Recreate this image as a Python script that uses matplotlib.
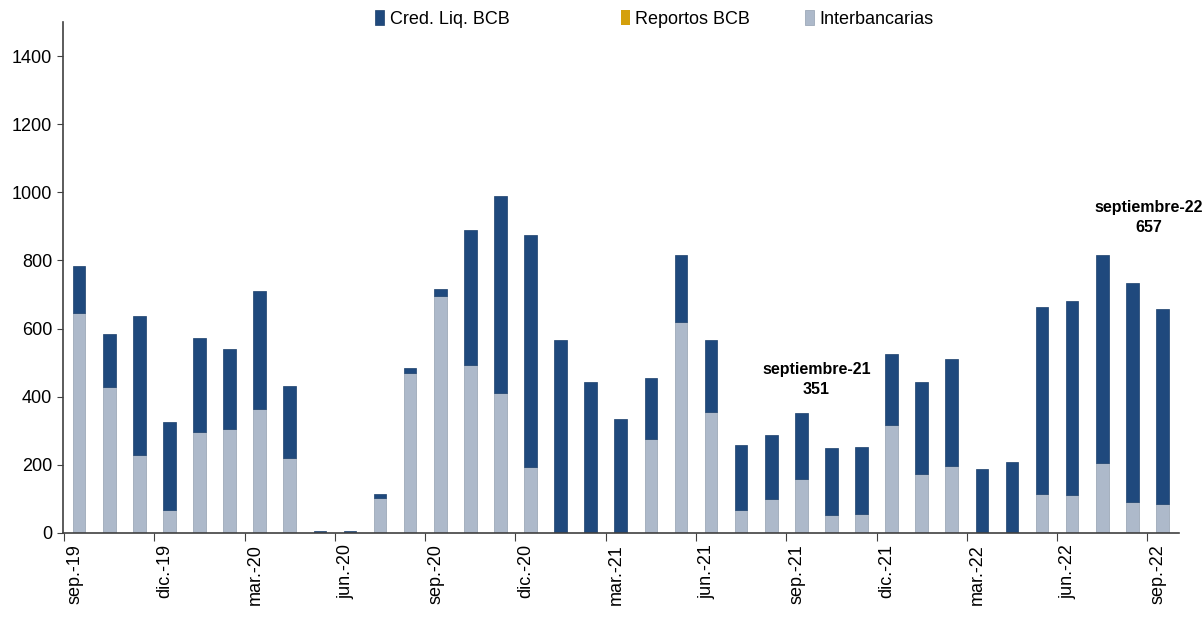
import matplotlib
matplotlib.use("Agg")
import matplotlib.pyplot as plt
import numpy as np
from matplotlib import font_manager

# pick a narrow font if there is one
names = set(f.name for f in font_manager.fontManager.ttflist)
fam = [n for n in ["Liberation Sans Narrow", "Liberation Sans", "DejaVu Sans"] if n in names]
plt.rcParams['font.family'] = fam

months = ["sep.-19", "oct.-19", "nov.-19", "dic.-19", "ene.-20", "feb.-20", "mar.-20",
          "abr.-20", "may.-20", "jun.-20", "jul.-20", "ago.-20", "sep.-20", "oct.-20",
          "nov.-20", "dic.-20", "ene.-21", "feb.-21", "mar.-21", "abr.-21", "may.-21",
          "jun.-21", "jul.-21", "ago.-21", "sep.-21", "oct.-21", "nov.-21", "dic.-21",
          "ene.-22", "feb.-22", "mar.-22", "abr.-22", "may.-22", "jun.-22", "jul.-22",
          "ago.-22", "sep.-22"]

interbancarias = [647, 429, 228, 68, 296, 305, 365, 219, 0, 0, 101, 469, 697, 494, 412, 193,
                  0, 0, 0, 275, 618, 356, 68, 98, 158, 51, 56, 317, 172, 197, 0, 0,
                  115, 110, 206, 90, 84]
reportos = [0] * 37
cred_liq = [136, 154, 410, 258, 275, 236, 346, 213, 5, 5, 14, 15, 19, 395, 576, 683,
            567, 442, 335, 180, 197, 211, 189, 189, 193, 197, 197, 207, 270, 314, 187, 209,
            549, 572, 609, 643, 573]

note_text = ["septiembre-21\n351", "septiembre-22\n657"]
note_idx = [24, 36]
# where the labels sit (x shift in bars, y lift in units)
note_dx = [0.5, -0.45]
note_dy = [48, 218]

c_cred = "#1f497d"
c_rep = "#d4a00c"
c_inter = "#adb9ca"

fig = plt.figure(figsize=(12.03, 6.18), dpi=100)
ax = fig.add_axes([0.052, 0.138, 0.928, 0.826])

x = np.arange(len(months))
w = 0.42
b1 = np.array(interbancarias)
b2 = b1 + np.array(reportos)
hi = ax.bar(x, interbancarias, w, color=c_inter, edgecolor="#9ea9b8", linewidth=0.6)
hr = ax.bar(x, reportos, w, bottom=b1, color=c_rep)
hc = ax.bar(x, cred_liq, w, bottom=b2, color=c_cred, edgecolor="#1a3f6c", linewidth=0.5)

ax.set_xlim(-0.55, len(months) - 0.45)
ax.set_ylim(0, 1500)
ax.set_yticks(range(0, 1401, 200))
ax.tick_params(axis="y", labelsize=13, length=4, color="#404040")

# ticks at category boundaries every 3 months, labels near them
ax.set_xticks(np.arange(0, len(months), 3) - 0.5)
ax.set_xticklabels([])
ax.tick_params(axis="x", which="major", length=6, color="#404040")
ax.set_xticks(np.arange(0, len(months), 3) - 0.15, [months[i] for i in range(0, len(months), 3)],
              minor=True, rotation=90)
ax.tick_params(axis="x", which="minor", length=0, labelsize=13, pad=8)

for s in ["top", "right"]:
    ax.spines[s].set_visible(False)
for s in ["left", "bottom"]:
    ax.spines[s].set_color("#404040")
    ax.spines[s].set_linewidth(1.2)

tot = b2 + np.array(cred_liq)
for txt, i, dx, dy in zip(note_text, note_idx, note_dx, note_dy):
    ax.text(i + dx, tot[i] + dy, txt, ha="center", va="bottom", fontsize=11.5,
            fontweight="bold", linespacing=1.45)

# legend entries placed one by one, like the original
entries = [(hc, "Cred. Liq. BCB", 0.312), (hr, "Reportos BCB", 0.516), (hi, "Interbancarias", 0.669)]
for hnd, lab, xpos in entries:
    lg = fig.legend([hnd], [lab], loc="upper left", bbox_to_anchor=(xpos, 0.984),
                    frameon=False, fontsize=13, handlelength=0.5, handleheight=0.9,
                    handletextpad=0.3, borderpad=0, borderaxespad=0)

fig.savefig("out.png", dpi=100)
